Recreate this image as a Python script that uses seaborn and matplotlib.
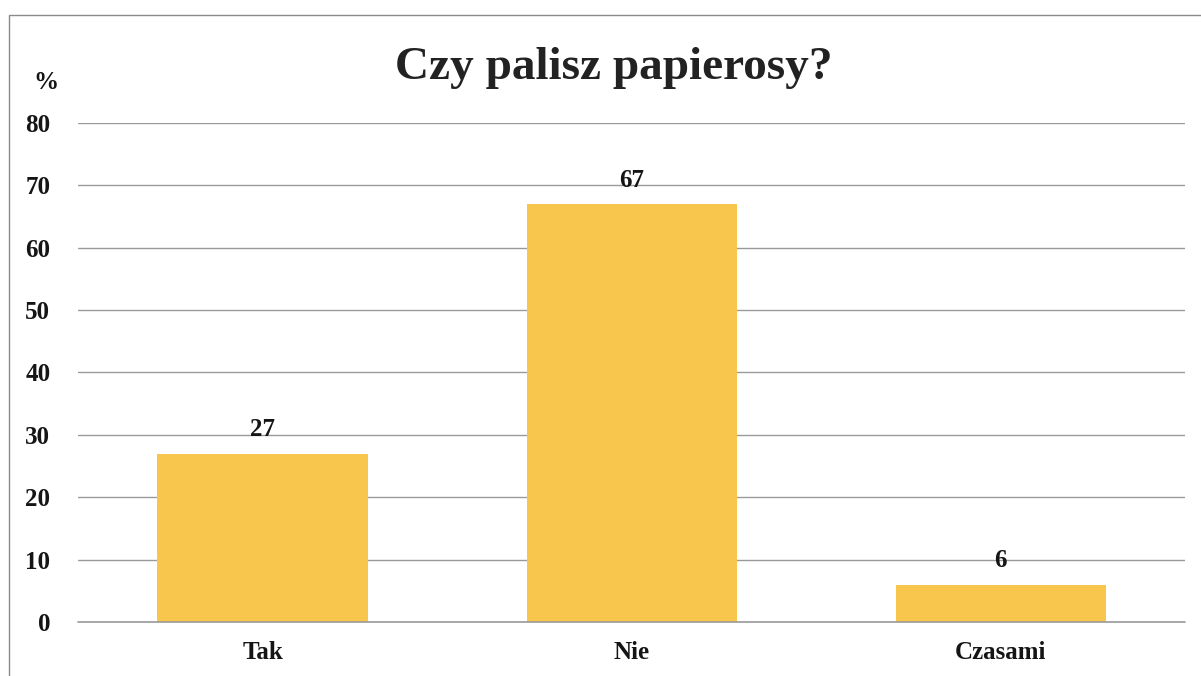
import seaborn as sns
import matplotlib.pyplot as plt
import matplotlib.patches as mpatches
import pandas as pd

# dane z wykresu
odpowiedzi = ['Tak', 'Nie', 'Czasami']
procenty = [27, 67, 6]
yticks = [0, 10, 20, 30, 40, 50, 60, 70, 80]

sns.set_theme(style='white')
plt.rcParams['font.family'] = ['Liberation Serif', 'DejaVu Serif']
plt.rcParams['font.weight'] = 'bold'

df = pd.DataFrame({'odp': odpowiedzi, 'proc': procenty})

fig = plt.figure(figsize=(12.01, 6.76), dpi=100)
ax = fig.add_axes([0.065, 0.08, 0.922, 0.738])

sns.barplot(data=df, x='odp', y='proc', color='#F9C64D', width=0.57,
            saturation=1, linewidth=0, ax=ax, zorder=3)

ax.set_ylim(0, 80)
ax.set_yticks(yticks)
ax.yaxis.grid(True, color='#9a9a9a', linewidth=1.0, zorder=0)
ax.axhline(0, color='#9a9a9a', linewidth=1.2, zorder=4, clip_on=False)
ax.set_axisbelow(True)
for s in ax.spines.values():
    s.set_visible(False)
ax.tick_params(axis='y', length=0, labelsize=18, pad=20)
ax.tick_params(axis='x', length=0, labelsize=18, pad=14)
for lbl in ax.get_xticklabels() + ax.get_yticklabels():
    lbl.set_fontweight('bold')
    lbl.set_color('#151515')
ax.set_xlabel('')
ax.set_ylabel('')

for i, v in enumerate(procenty):
    ax.text(i, v + 2.0, str(v), ha='center', va='bottom',
            fontsize=18, fontweight='bold', color='#151515')

fig.text(0.511, 0.9, 'Czy palisz papierosy?', ha='center', va='center',
         fontsize=34, fontweight='bold', color='#222222')
fig.text(0.038, 0.878, '%', ha='center', va='center',
         fontsize=18, fontweight='bold', color='#151515')

# ramka skanu
fig.patches.append(mpatches.Rectangle((0.0075, -0.1), 1.2, 1.078,
                                      transform=fig.transFigure, fill=False,
                                      edgecolor='#8a8a8a', linewidth=1.0))

fig.savefig('out.png', dpi=100)
